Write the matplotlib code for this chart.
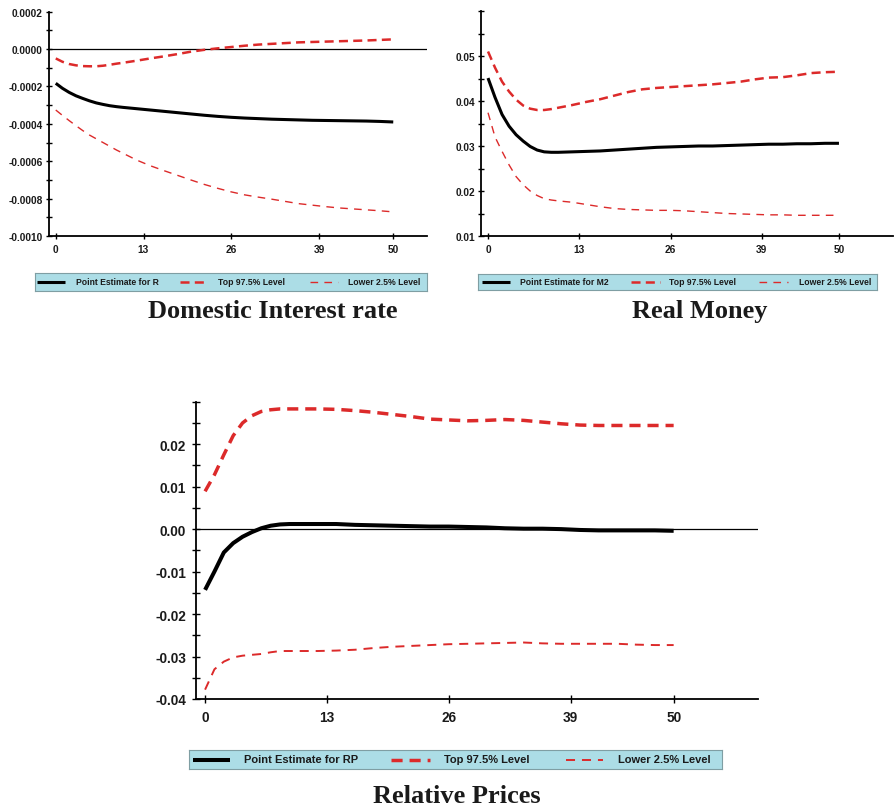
import matplotlib
matplotlib.use('Agg')
import matplotlib.pyplot as plt
from matplotlib.ticker import FixedLocator, FuncFormatter

# horizon (periods after the shock)
horizon = [0, 1, 2, 3, 4, 5, 6, 7, 8, 9, 10, 12, 14, 16, 18, 20, 22, 24, 26, 28,
           30, 32, 34, 36, 38, 40, 42, 44, 46, 48, 50]
x_ticks = [0, 13, 26, 39, 50]

# Domestic interest rate (R)
rate_point = [-0.000183, -0.000210, -0.000232, -0.000250, -0.000264, -0.000277, -0.000288,
              -0.000296, -0.000303, -0.000308, -0.000312, -0.000319, -0.000326, -0.000333,
              -0.000340, -0.000347, -0.000354, -0.000360, -0.000365, -0.000369, -0.000372,
              -0.000375, -0.000377, -0.000379, -0.000381, -0.000382, -0.000383, -0.000384,
              -0.000385, -0.000387, -0.000390]
rate_upper = [-0.000050, -0.000068, -0.000080, -0.000087, -0.000091, -0.000092, -0.000092,
              -0.000089, -0.000084, -0.000078, -0.000073, -0.000062, -0.000050, -0.000039,
              -0.000027, -0.000014, -0.000004, 0.000004, 0.000011, 0.000018, 0.000024,
              0.000028, 0.000032, 0.000036, 0.000038, 0.000040, 0.000042, 0.000044,
              0.000046, 0.000049, 0.000052]
rate_lower = [-0.000326, -0.000355, -0.000383, -0.000410, -0.000436, -0.000460, -0.000480,
              -0.000500, -0.000520, -0.000540, -0.000558, -0.000594, -0.000624, -0.000650,
              -0.000675, -0.000700, -0.000724, -0.000745, -0.000764, -0.000780, -0.000792,
              -0.000803, -0.000815, -0.000827, -0.000835, -0.000843, -0.000850, -0.000855,
              -0.000860, -0.000865, -0.000871]

# Real money (M2)
money_point = [0.0451, 0.0408, 0.0370, 0.0344, 0.0325, 0.0311, 0.0299, 0.0291, 0.0287, 0.0286,
               0.0286, 0.0287, 0.0288, 0.0289, 0.0291, 0.0293, 0.0295, 0.0297, 0.0298, 0.0299,
               0.0300, 0.0300, 0.0301, 0.0302, 0.0303, 0.0304, 0.0304, 0.0305, 0.0305, 0.0306,
               0.0306]
money_upper = [0.0510, 0.0474, 0.0443, 0.0421, 0.0403, 0.0390, 0.0383, 0.0380, 0.0380, 0.0382,
               0.0385, 0.0391, 0.0398, 0.0404, 0.0412, 0.0420, 0.0426, 0.0429, 0.0431, 0.0433,
               0.0435, 0.0437, 0.0440, 0.0443, 0.0448, 0.0452, 0.0453, 0.0457, 0.0462, 0.0464,
               0.0465]
money_lower = [0.0374, 0.0320, 0.0288, 0.0258, 0.0232, 0.0214, 0.0200, 0.0190, 0.0183, 0.0180,
               0.0178, 0.0175, 0.0170, 0.0165, 0.0161, 0.0159, 0.0158, 0.0157, 0.0157, 0.0156,
               0.0154, 0.0152, 0.0150, 0.0149, 0.0148, 0.0147, 0.0147, 0.0146, 0.0146, 0.0146,
               0.0146]

# Relative prices (RP)
prices_point = [-0.0143, -0.0100, -0.0055, -0.0033, -0.0018, -0.0007, 0.0002, 0.0008, 0.0011,
                0.0012, 0.0012, 0.0012, 0.0012, 0.0010, 0.0009, 0.0008, 0.0007, 0.0006, 0.0006,
                0.0005, 0.0004, 0.0002, 0.0001, 0.0001, 0.0000, -0.0002, -0.0003, -0.0003,
                -0.0003, -0.0003, -0.0004]
prices_upper = [0.0089, 0.0128, 0.0175, 0.0220, 0.0250, 0.0267, 0.0277, 0.0281, 0.0283, 0.0283,
                0.0283, 0.0283, 0.0282, 0.0279, 0.0275, 0.0270, 0.0265, 0.0259, 0.0257, 0.0255,
                0.0256, 0.0258, 0.0256, 0.0252, 0.0248, 0.0245, 0.0244, 0.0244, 0.0244, 0.0244,
                0.0244]
prices_lower = [-0.0378, -0.0330, -0.0312, -0.0302, -0.0298, -0.0296, -0.0294, -0.0290, -0.0287,
                -0.0287, -0.0287, -0.0287, -0.0286, -0.0284, -0.0280, -0.0277, -0.0275, -0.0273,
                -0.0271, -0.0270, -0.0269, -0.0268, -0.0267, -0.0269, -0.0270, -0.0270, -0.0270,
                -0.0270, -0.0272, -0.0273, -0.0273]

legend_labels = ['Top 97.5% Level', 'Lower 2.5% Level']
titles = ['Domestic Interest rate', 'Real Money', 'Relative Prices']

W, H = 894, 812
RED = '#dc2a2a'
LEGEND_BG = '#acdde6'
SANS = 'Liberation Sans'
SERIF = 'Liberation Serif'

plt.rcParams['axes.unicode_minus'] = False
plt.rcParams['lines.scale_dashes'] = False


def px_box(x0, y0, x1, y1):
    """Pixel box (top-left origin) -> figure fraction rect"""
    return [x0 / W, 1 - y1 / H, (x1 - x0) / W, (y1 - y0) / H]


def draw_panel(fig, rect, series, xlim, ylim, major, minor, fmt, sizes, zero_line):
    point, upper, lower = series
    ax = fig.add_axes(rect)
    ax.plot(horizon, point, color='black', lw=sizes['point'], solid_capstyle='butt')
    ax.plot(horizon, upper, color=RED, lw=sizes['upper'], dashes=sizes['upper_dash'])
    ax.plot(horizon, lower, color=RED, lw=sizes['lower'], dashes=sizes['lower_dash'])
    if zero_line:
        ax.axhline(0, color='black', lw=0.9, zorder=1)

    ax.set_xlim(*xlim)
    ax.set_ylim(*ylim)
    ax.xaxis.set_major_locator(FixedLocator(x_ticks))
    ax.yaxis.set_major_locator(FixedLocator(major))
    ax.yaxis.set_minor_locator(FixedLocator(minor))
    ax.xaxis.set_major_formatter(FuncFormatter(lambda v, p: '%d' % v))
    ax.yaxis.set_major_formatter(FuncFormatter(lambda v, p: fmt % v))

    fs = sizes['tick_font']
    ax.tick_params(axis='both', which='both', direction='inout', length=sizes['tick_len'],
                   width=1.0, color='black')
    ax.tick_params(axis='x', pad=sizes['xpad'])
    ax.tick_params(axis='y', pad=sizes['ypad'])
    for lab in ax.get_xticklabels() + ax.get_yticklabels():
        lab.set_fontfamily(SANS)
        lab.set_fontweight('bold')
        lab.set_fontsize(fs)
        lab.set_color('#1a1a1a')

    for side in ['top', 'right']:
        ax.spines[side].set_visible(False)
    for side in ['left', 'bottom']:
        ax.spines[side].set_linewidth(1.3)
    ax.set_facecolor('none')
    return ax


def draw_legend(fig, box, items, sizes):
    """Legend strip: items = list of (x_sample0, x_sample1, x_text, label, kind) in pixels"""
    x0, y0, x1, y1 = box
    lax = fig.add_axes(px_box(*box))
    lax.set_xlim(x0, x1)
    lax.set_ylim(y1, y0)
    lax.set_facecolor(LEGEND_BG)
    for s in lax.spines.values():
        s.set_color('#7f9ea3')
        s.set_linewidth(0.8)
    lax.set_xticks([])
    lax.set_yticks([])
    ymid = (y0 + y1) / 2
    for xs0, xs1, xt, label, kind in items:
        if kind == 'point':
            lax.plot([xs0, xs1], [ymid, ymid], color='black', lw=sizes['point'],
                     solid_capstyle='butt')
        elif kind == 'upper':
            lax.plot([xs0, xs1], [ymid, ymid], color=RED, lw=sizes['upper'],
                     dashes=sizes['upper_dash'])
        else:
            lax.plot([xs0, xs1], [ymid, ymid], color=RED, lw=sizes['lower'],
                     dashes=sizes['lower_dash'])
        lax.text(xt, ymid, label, ha='left', va='center', fontfamily=SANS,
                 fontweight='bold', fontsize=sizes['legend_font'], color='#1a1a1a')


def main():
    fig = plt.figure(figsize=(W / 100, H / 100), dpi=100)
    fig.patch.set_facecolor('white')

    small = dict(point=2.2, upper=1.8, upper_dash=(6.5, 3.8), lower=1.0, lower_dash=(5.5, 4.5),
                 tick_font=7.3, tick_len=5, xpad=3, ypad=2, legend_font=6.2)
    big = dict(point=2.9, upper=2.5, upper_dash=(8, 5), lower=1.4, lower_dash=(6.5, 5),
               tick_font=9.8, tick_len=6, xpad=5, ypad=4, legend_font=8.0)

    # Domestic interest rate
    draw_panel(fig, px_box(49, 12.7, 427, 237), (rate_point, rate_upper, rate_lower),
               (-1, 55), (-0.0010, 0.0002),
               [-0.0010, -0.0008, -0.0006, -0.0004, -0.0002, 0.0, 0.0002],
               [-0.0009, -0.0007, -0.0005, -0.0003, -0.0001, 0.0001],
               '%.4f', small, True)
    draw_legend(fig, (35, 274, 427, 292),
                [(37, 65, 76, 'Point Estimate for R', 'point'),
                 (180, 208, 218, legend_labels[0], 'upper'),
                 (310, 338, 348, legend_labels[1], 'lower')], small)

    # Real money
    draw_panel(fig, px_box(481, 12, 893, 237), (money_point, money_upper, money_lower),
               (-1, 57.7), (0.01, 0.06),
               [0.01, 0.02, 0.03, 0.04, 0.05],
               [0.015, 0.025, 0.035, 0.045, 0.055, 0.06],
               '%.2f', small, False)
    draw_legend(fig, (478, 275, 877, 291),
                [(482, 510, 520, 'Point Estimate for M2', 'point'),
                 (631, 660, 669, legend_labels[0], 'upper'),
                 (759, 788, 799, legend_labels[1], 'lower')], small)

    # Relative prices
    draw_panel(fig, px_box(195.7, 402.7, 758, 700), (prices_point, prices_upper, prices_lower),
               (-1, 59), (-0.04, 0.03),
               [-0.04, -0.03, -0.02, -0.01, 0.0, 0.01, 0.02],
               [-0.035, -0.025, -0.015, -0.005, 0.005, 0.015, 0.025, 0.03],
               '%.2f', big, True)
    draw_legend(fig, (189, 751, 722, 770),
                [(193, 230, 244, 'Point Estimate for RP', 'point'),
                 (391, 430, 444, legend_labels[0], 'upper'),
                 (566, 603, 618, legend_labels[1], 'lower')], big)

    # Panel captions
    for (cx, cy), title in zip([(273, 312), (700, 312), (457, 797)], titles):
        fig.text(cx / W, 1 - cy / H, title, ha='center', va='center', fontfamily=SERIF,
                 fontweight='bold', fontsize=19, color='#1a1a1a')

    fig.savefig('out.png', dpi=100, facecolor='white')


if __name__ == "__main__":
    main()
